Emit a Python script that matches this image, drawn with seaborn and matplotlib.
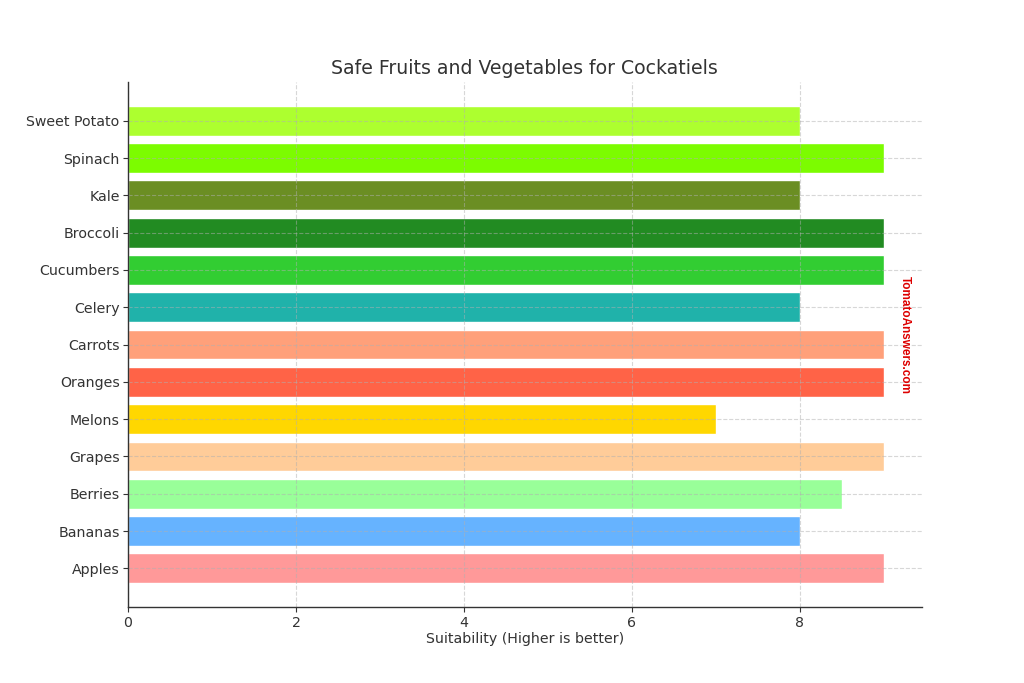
import matplotlib
matplotlib.use("Agg")
import matplotlib.pyplot as plt
import seaborn as sns
import pandas as pd

foods = ["Apples", "Bananas", "Berries", "Grapes", "Melons", "Oranges", "Carrots",
         "Celery", "Cucumbers", "Broccoli", "Kale", "Spinach", "Sweet Potato"]
suitability = [9, 8, 8.5, 9, 7, 9, 9, 8, 9, 9, 8, 9, 8]
colors = ["#FF9999", "#66B3FF", "#99FF99", "#FFCC99", "#FFD700", "#FF6347", "#FFA07A",
          "#20B2AA", "#32CD32", "#228B22", "#6B8E23", "#7CFC00", "#ADFF2F"]

df = pd.DataFrame({"Food": foods, "Suitability": suitability})
palette = dict(zip(foods, colors))

sns.set_style("white")
plt.rcParams['font.family'] = ['DejaVu Sans']

fig = plt.figure(figsize=(10.24, 6.83), dpi=100)
ax = fig.add_axes([0.125, 0.111, 0.775, 0.769])

order = foods[::-1]
sns.barplot(data=df, y="Food", x="Suitability", hue="Food", order=order, hue_order=order,
            palette=palette, orient="h", width=0.8, saturation=1, legend=False, ax=ax)

n = len(foods)
ax.set_ylim(n - 1 + 1.04, -1.04)
ax.set_xlim(0, max(suitability) * 1.05)

ax.set_axisbelow(False)
ax.grid(True, linestyle="--", color="#b0b0b0", alpha=0.5, linewidth=0.8)

for s in ["top", "right"]:
    ax.spines[s].set_visible(False)
for s in ["left", "bottom"]:
    ax.spines[s].set_color("#333333")
    ax.spines[s].set_linewidth(1.0)
    ax.spines[s].set_zorder(5)

ax.tick_params(axis="both", which="major", length=3.5, width=0.8, color="#333333",
               labelsize=10.2, labelcolor="#333333", left=True, bottom=True, pad=2.5)
ax.set_ylabel("")
ax.set_xlabel("Suitability (Higher is better)", fontsize=10.2, color="#333333", labelpad=2)
ax.set_title("Safe Fruits and Vegetables for Cockatiels", fontsize=13.6, color="#333333", pad=6)

fig.text(0.884, 0.51, "TomatoAnswers.com", rotation=-90, color="#DD0000",
         fontsize=8.5, fontweight="bold", family=["Liberation Sans", "DejaVu Sans"],
         ha="center", va="center")

fig.savefig("out.png", dpi=100)
